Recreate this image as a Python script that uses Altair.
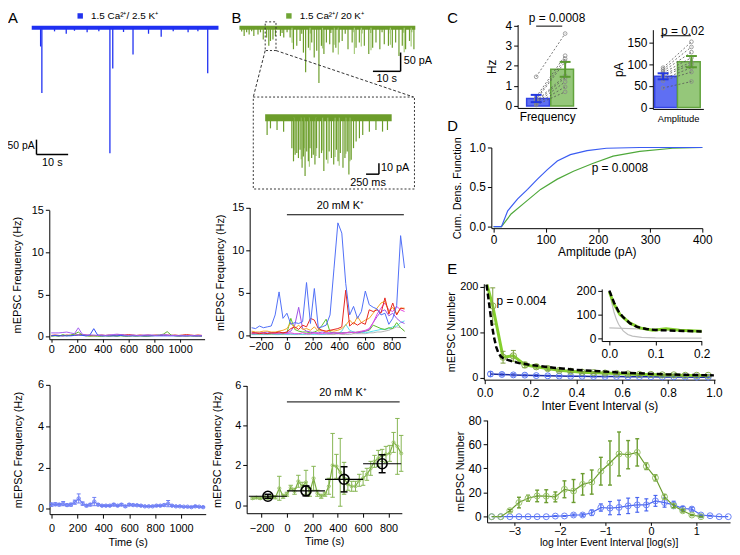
import altair as alt
import pandas as pd

W, H = 732, 547
OX = OY = 8
FONT = "Liberation Sans"

# ---------------- A: example trace 1.5 Ca2+/2.5 K+ (s, pA) ----------------
trA_len = 59
trA_t = [2.8, 3.2, 7.2, 10.9, 13.5, 17.5, 21.2, 24.7, 25.6, 29.0, 32.0, 36.9, 40.9, 44.7, 49.4, 52.5, 55.6]
trA_amp = [63, 220, 12, 20, 10, 15, 12, 423, 137, 14, 90, 20, 30, 12, 15, 12, 153]

# ---------------- B: example trace 1.5 Ca2+/20 K+ (s, pA) ----------------
trB_len = 63.5
trB_t = [1.7, 3.5, 5.2, 6.7, 8.6, 9.8, 10.6, 11.2, 12.1, 13.0, 14.8, 16.0, 18.3, 19.5, 20.7, 21.9, 23.1, 23.9,
         24.9, 26.1, 27.0, 27.9, 28.7, 29.6, 30.5, 31.4, 32.6, 33.8, 34.8, 36.0, 37.1, 39.2, 40.7, 42.1, 43.3,
         45.1, 46.7, 48.1, 49.3, 50.7, 52.3, 53.8, 55.2, 56.4, 57.6, 58.8, 60.0, 61.4, 63.0]
trB_amp = [22, 18, 22, 18, 31, 26, 48, 35, 31, 22, 22, 26, 26, 57, 48, 35, 66, 118, 53, 39, 79, 61, 147, 48,
           70, 39, 44, 66, 53, 39, 35, 57, 39, 53, 39, 48, 70, 53, 39, 57, 44, 48, 53, 39, 75, 48, 57, 35, 57]
trB_small_t = [0.8, 2.6, 4.4, 7.6, 15.4, 17.2, 22.5, 25.6, 33.0, 38.2, 41.4, 44.2, 47.4, 51.5, 54.5, 59.4, 62.2]
trB_small_amp = [10, 12, 9, 12, 14, 12, 16, 15, 14, 16, 12, 15, 14, 12, 15, 13, 12]
trB_light_t = [19.0, 25.5, 30.0, 34.2, 35.7, 41.5, 44.0, 47.5, 54.5, 59.5, 62.0]
trB_light_amp = [40, 60, 55, 45, 71, 70, 50, 60, 45, 65, 50]

# inset (ms, pA)
ins_len = 2460
ins_t = [38, 103, 231, 359, 519, 551, 583, 615, 647, 679, 718, 743, 776, 808, 840, 872, 904, 936, 968, 1000,
         1051, 1096, 1141, 1192, 1244, 1288, 1333, 1385, 1417, 1462, 1513, 1551, 1596, 1628, 1673, 1718, 1769,
         1833, 1897, 2026, 2154, 2282, 2378]
ins_amp = [15.8, 9.7, 11.2, 12.7, 27.9, 40, 33.9, 32.4, 37, 29.4, 46, 35.5, 53.6, 30.9, 40, 27.9, 37, 33.9, 43,
           27.9, 37, 32.4, 49, 38.5, 30.9, 37, 43, 29.4, 40, 32.4, 46, 37, 30.9, 52, 38.5, 27.9, 21.8, 18.8,
           15.8, 12.7, 11.2, 12.7, 11.2]
ins_light_t = [560, 700, 760, 860, 990, 1120, 1220, 1360, 1440, 1570, 1650]
ins_light_amp = [30, 38, 28, 45, 35, 30, 42, 36, 44, 33, 40]

# ---------------- A middle / bottom: frequency time courses (s, Hz) ----------------
tA = [0, 30, 60, 90, 120, 150, 180, 210, 240, 270, 300, 330, 360, 390, 420, 450, 480, 510, 540, 570,
      600, 630, 660, 690, 720, 750, 780, 810, 840, 870, 900, 930, 960, 990, 1020, 1050, 1080, 1110, 1140, 1170]
am_purple = [0.45, 0.45, 0.45, 0.5, 0.55, 0.45, 0.35, 1.05, 0.3, 0.2, 0.2, 0.2, 0.15, 0.2, 0.15, 0.2, 0.25, 0.3, 0.25, 0.2,
             0.15, 0.2, 0.15, 0.15, 0.2, 0.2, 0.2, 0.15, 0.2, 0.25, 0.2, 0.15, 0.15, 0.1, 0.1, 0.1, 0.15, 0.1, 0.1, 0.1]
am_blue = [0.1, 0.15, 0.1, 0.1, 0.1, 0.1, 0.15, 0.2, 0.15, 0.1, 0.2, 0.95, 0.2, 0.1, 0.1, 0.1, 0.1, 0.1, 0.15, 0.1,
           0.1, 0.1, 0.1, 0.1, 0.1, 0.1, 0.1, 0.1, 0.1, 0.1, 0.1, 0.1, 0.1, 0.1, 0.1, 0.1, 0.1, 0.1, 0.1, 0.1]
am_green = [0.05, 0.1, 0.05, 0.25, 0.1, 0.2, 0.3, 0.55, 0.2, 0.1, 0.05, 0.1, 0.05, 0.05, 0.1, 0.05, 0.1, 0.05, 0.1, 0.05,
            0.05, 0.1, 0.05, 0.1, 0.05, 0.05, 0.1, 0.15, 0.2, 0.3, 0.6, 0.2, 0.1, 0.05, 0.1, 0.05, 0.1, 0.05, 0.05, 0.05]
am_red = [0.15, 0.2, 0.15, 0.1, 0.2, 0.15, 0.2, 0.2, 0.25, 0.2, 0.15, 0.1, 0.15, 0.2, 0.15, 0.2, 0.15, 0.2, 0.25, 0.2,
          0.25, 0.2, 0.15, 0.2, 0.15, 0.2, 0.15, 0.2, 0.15, 0.2, 0.2, 0.15, 0.2, 0.15, 0.2, 0.25, 0.2, 0.15, 0.2, 0.15]
a_mean = [0.2, 0.22, 0.2, 0.25, 0.18, 0.2, 0.32, 0.5, 0.25, 0.15, 0.2, 0.35, 0.2, 0.15, 0.15, 0.15, 0.2, 0.15, 0.2, 0.12,
          0.2, 0.18, 0.17, 0.15, 0.12, 0.12, 0.12, 0.15, 0.15, 0.18, 0.25, 0.15, 0.12, 0.12, 0.1, 0.1, 0.08, 0.12, 0.1, 0.08]
a_sem = [0.08, 0.07, 0.06, 0.1, 0.05, 0.07, 0.1, 0.22, 0.08, 0.05, 0.06, 0.2, 0.05, 0.04, 0.04, 0.04, 0.06, 0.04, 0.05, 0.04,
         0.05, 0.04, 0.04, 0.04, 0.03, 0.03, 0.03, 0.04, 0.04, 0.05, 0.15, 0.04, 0.03, 0.03, 0.03, 0.03, 0.03, 0.04, 0.03, 0.03]

# ---------------- B middle / bottom (s, Hz) ----------------
tB = [-270, -240, -210, -180, -150, -120, -90, -60, -30, 0, 30, 60, 90, 120, 150, 180, 210, 240, 270, 300,
      330, 360, 390, 420, 450, 480, 510, 540, 570, 600, 630, 660, 690, 720, 750, 780, 810, 840, 870, 900]
bm_blue = [0.9, 0.8, 1.1, 0.9, 1.0, 1.1, 2.4, 5.1, 2.0, 2.6, 1.3, 1.5, 1.4, 1.6, 6.2, 1.4, 5.5, 0.9, 1.0, 1.2,
           2.4, 7.8, 13.2, 12.0, 6.1, 2.4, 3.4, 2.0, 2.8, 5.2, 3.6, 3.3, 3.1, 2.4, 2.6, 1.3, 2.0, 3.5, 11.7, 7.9]
bm_red = [0.3, 0.3, 0.2, 0.3, 0.2, 0.3, 0.3, 0.4, 0.3, 0.4, 0.8, 1.0, 0.7, 1.2, 1.0, 2.0, 1.8, 0.8, 0.6, 0.5,
          0.6, 0.7, 0.8, 1.0, 5.3, 1.1, 1.5, 1.2, 1.5, 1.3, 3.0, 2.8, 3.0, 2.6, 4.4, 2.5, 3.8, 2.4, 3.2, 3.1]
bm_orange = [0.5, 0.4, 0.4, 0.5, 0.5, 0.4, 0.4, 0.5, 0.6, 0.8, 1.5, 0.8, 1.2, 0.7, 0.8, 0.6, 1.0, 0.5, 0.6, 0.4,
             0.6, 0.5, 0.6, 0.8, 1.2, 1.8, 1.3, 2.2, 1.5, 1.8, 2.0, 2.6, 3.2, 3.8, 4.0, 2.8, 3.3, 2.5, 3.2, 3.2]
bm_purple = [0.4, 0.3, 0.3, 0.3, 0.4, 0.3, 0.3, 0.4, 0.3, 0.3, 0.5, 1.2, 3.3, 0.8, 0.5, 0.4, 0.3, 0.3, 0.4, 0.3,
             0.3, 0.3, 0.2, 0.3, 0.3, 0.3, 0.4, 0.3, 0.4, 0.5, 0.7, 1.5, 2.2, 2.8, 3.0, 2.3, 2.6, 2.0, 1.6, 1.4]
bm_magenta = [0.2, 0.2, 0.3, 0.2, 0.2, 0.3, 0.2, 0.2, 0.3, 0.2, 0.3, 0.2, 0.2, 0.3, 0.2, 0.2, 0.3, 0.2, 0.2, 0.3,
              0.2, 0.3, 0.3, 0.2, 0.3, 0.4, 0.3, 0.4, 0.5, 0.6, 0.8, 1.5, 2.5, 3.2, 3.8, 3.0, 2.8, 3.4, 3.0, 2.8]
bm_green = [0.2, 0.2, 0.2, 0.2, 0.2, 0.2, 0.2, 0.2, 0.2, 0.3, 2.0, 0.7, 0.5, 0.4, 0.4, 0.3, 0.4, 0.6, 1.2, 1.9,
            0.4, 0.3, 0.3, 0.3, 0.3, 0.4, 0.3, 0.4, 0.4, 0.5, 0.6, 1.2, 1.0, 0.8, 0.7, 0.9, 0.8, 1.5, 0.9, 0.5]
bm_cyan = [0.1, 0.1, 0.2, 0.1, 0.1, 0.2, 0.1, 0.1, 0.2, 0.1, 0.2, 0.1, 0.2, 0.1, 0.2, 0.2, 0.1, 0.2, 0.1, 0.2,
           0.2, 0.3, 0.2, 0.5, 1.3, 0.6, 0.4, 0.3, 0.4, 0.3, 0.4, 0.5, 0.6, 0.7, 0.7, 0.8, 1.0, 1.1, 1.5, 1.7]
bm_gray = [0.1, 0.1, 0.1, 0.1, 0.1, 0.1, 0.1, 0.1, 0.1, 0.1, 0.1, 0.1, 0.1, 0.1, 0.1, 0.1, 0.2, 0.1, 0.1, 0.1,
           0.1, 0.1, 0.2, 0.1, 0.1, 0.1, 0.2, 0.2, 0.2, 0.2, 0.3, 0.3, 0.4, 0.4, 0.5, 0.6, 0.8, 1.0, 0.9, 0.5]
b_mean = [0.35, 0.38, 0.35, 0.40, 0.36, 0.42, 0.40, 0.85, 0.45, 0.55, 0.88, 0.70, 1.20, 0.95, 1.15, 0.65, 1.35, 0.60, 0.45, 0.55,
          0.95, 2.00, 1.95, 1.65, 1.35, 1.05, 0.95, 0.95, 1.25, 1.35, 1.55, 1.85, 2.20, 2.35, 2.50, 2.55, 2.60, 3.15, 2.95, 2.60]
b_sem = [0.05, 0.05, 0.05, 0.06, 0.05, 0.07, 0.08, 0.60, 0.10, 0.10, 0.12, 0.15, 0.30, 0.20, 0.60, 0.20, 0.60, 0.15, 0.10, 0.10,
         0.40, 1.60, 0.60, 1.70, 0.80, 0.30, 0.25, 0.25, 0.30, 0.35, 0.30, 0.35, 0.30, 0.40, 0.30, 0.40, 0.40, 0.50, 1.40, 0.90]
bin_t = [-150, 150, 450, 750]
bin_t0 = [-300, 0, 300, 600]
bin_t1 = [0, 300, 600, 900]
bin_mean = [0.45, 0.72, 1.30, 2.08]
bin_sem = [0.10, 0.25, 0.63, 0.45]

# ---------------- C: paired summary ----------------
freq_blue = [1.45, 0.45, 0.35, 0.3, 0.25, 0.2, 0.15, 0.1, 0.05]
freq_green = [3.6, 2.5, 2.35, 2.2, 1.5, 1.4, 1.2, 0.95, 0.7]
freq_mean = [0.37, 1.82]
freq_sem = [0.18, 0.37]
amp_blue = [92, 88, 84, 80, 76, 72, 66, 62, 45]
amp_green = [152, 140, 128, 115, 105, 100, 92, 82, 60]
amp_mean = [72, 106]
amp_sem = [7, 13]

# ---------------- D: cumulative amplitude distributions ----------------
cdf_blue_x = [0, 15, 27, 46, 65, 84, 103, 122, 147, 179, 216, 280, 400]
cdf_blue_y = [0, 0, 0.2, 0.35, 0.47, 0.6, 0.72, 0.83, 0.91, 0.96, 0.99, 1.0, 1.0]
cdf_green_x = [0, 15, 33.5, 59, 90, 122, 153, 191, 229, 280, 343, 400]
cdf_green_y = [0, 0, 0.16, 0.30, 0.47, 0.6, 0.7, 0.8, 0.89, 0.95, 0.99, 1.0]

# ---------------- E top: inter-event interval histograms ----------------
ie_green_x = [0.01, 0.035, 0.08, 0.125, 0.175, 0.225, 0.275, 0.325, 0.375, 0.425, 0.475, 0.525, 0.575, 0.625,
              0.675, 0.725, 0.775, 0.825, 0.875, 0.925, 0.975]
ie_green_y = [205, 158, 45, 48, 28, 24, 20, 16, 14, 12, 11, 10, 9, 8, 7, 7, 6, 6, 5, 5, 5]
ie_green_sem = [0, 40, 13, 12, 6, 5, 4, 3, 3, 2, 2, 2, 2, 2, 2, 1, 1, 1, 1, 1, 1]
ie_blue_x = [0.025, 0.075, 0.125, 0.175, 0.225, 0.275, 0.325, 0.375, 0.425, 0.475, 0.525, 0.575, 0.625, 0.675,
             0.725, 0.775, 0.825, 0.875, 0.925, 0.975]
ie_blue_y = [8, 7, 6, 5.5, 4.5, 4, 3.5, 3, 3, 2.5, 2.5, 2.5, 2, 2, 2, 1.5, 1.5, 1.5, 1, 1]
ie_blue_sem = [5, 3, 2.5, 2, 2, 1.5, 1.5, 1, 1, 1, 1, 1, 1, 1, 1, 1, 1, 1, 1, 1]
ie_fit_x = [0.008, 0.02, 0.03, 0.04, 0.05, 0.06, 0.07, 0.08, 0.1, 0.15, 0.2, 0.3, 0.4, 0.5, 0.6, 0.7, 0.8, 0.9, 1.0]
ie_fit_y = [205, 160, 120, 90, 68, 54, 47, 43, 39, 32, 28, 22, 17, 14, 11, 9, 7, 6, 5]
# inset
in_green_x = [0.0, 0.009, 0.023, 0.044, 0.066, 0.094, 0.123, 0.152, 0.2]
in_green_y = [195, 147, 99, 64, 43, 33, 39, 33, 29]
in_fit_x = [0.0, 0.01, 0.02, 0.03, 0.045, 0.06, 0.08, 0.1, 0.13, 0.16, 0.2]
in_fit_y = [200, 150, 112, 88, 62, 47, 38, 34, 32, 30, 28]
in_gray1_x = [0.0, 0.005, 0.01, 0.015, 0.02, 0.03, 0.04, 0.05, 0.07, 0.1, 0.2]
in_gray1_y = [200, 150, 110, 80, 58, 30, 15, 8, 3, 1, 0]
in_gray2_x = [0.0, 0.1, 0.2]
in_gray2_y = [43, 36, 28]

# ---------------- E bottom: log IEI histograms ----------------
le_green_x = [-3.5, -3.3, -3.1, -2.9, -2.7, -2.5, -2.3, -2.1, -1.9, -1.7, -1.5, -1.3, -1.1, -0.9, -0.7, -0.5,
              -0.3, -0.1, 0.1, 0.3, 0.5, 0.7, 0.9, 1.1]
le_green_y = [0, 0, 5, 11.7, 15.3, 17.2, 17, 16.4, 22.7, 21.3, 26.8, 28.7, 37.7, 44.5, 52, 51.4, 53.3, 41.8,
              32.2, 16.4, 9, 4.9, 1.4, 0]
le_green_sem = [0, 0, 1, 4.4, 2.5, 4.8, 5.3, 4.1, 7, 9.5, 8.9, 10, 11.5, 18.3, 18.2, 11.7, 11.3, 2.7, 2.5, 2,
                1.5, 1, 0.5, 0.3]
le_blue_x = [-3.5, -3.3, -3.1, -2.9, -2.7, -2.5, -2.3, -2.1, -1.9, -1.7, -1.5, -1.3, -1.1, -0.9, -0.7, -0.5,
             -0.3, -0.1, 0.1, 0.3, 0.5, 0.7, 0.9, 1.1, 1.3, 1.5, 1.7]
le_blue_y = [0, 0, 0, 0, 0, 0, 0, 0.5, 0.6, 1.4, 1.4, 3.3, 7.6, 7.1, 7.7, 9, 9.8, 9.8, 13.1, 11.7, 9.8, 6.8,
             6.3, 1.4, 0.8, 0, 0]
le_blue_sem = [0, 0, 0, 0, 0, 0, 0, 0.3, 0.3, 0.8, 1, 2.3, 3, 5.5, 6, 6.4, 6.1, 5, 4.5, 3.8, 3, 1.6, 1.6,
               0.5, 0.3, 0, 0]

# ======================= helpers =======================
class Panel:
    def __init__(self, xd, xa, xb, yd, ya, yb):
        kx = (xb[1] - xa[1]) / (xb[0] - xa[0])
        ky = (yb[1] - ya[1]) / (yb[0] - ya[0])
        self.xd, self.yd = list(xd), list(yd)
        self.xr = [round(xa[1] + (d - xa[0]) * kx - OX, 2) for d in xd]
        self.yr = [round(ya[1] + (d - ya[0]) * ky - OY, 2) for d in yd]
        self.xs = alt.Scale(domain=self.xd, range=self.xr, nice=False, zero=False)
        self.ys = alt.Scale(domain=self.yd, range=self.yr, nice=False, zero=False)

    def xaxis(self, **kw):
        return make_axis("bottom", round(self.yr[0] - H, 2), **kw)

    def yaxis(self, **kw):
        return make_axis("left", round(-self.xr[0], 2), **kw)


def make_axis(orient, offset, values=None, title=None, fmt=None, labels=True, ticks=True,
              tpad=3, lpad=2, tsize=11, lsize=11, ticksize=4):
    kw = dict(orient=orient, offset=offset, title=title, labels=labels, ticks=ticks,
              titlePadding=tpad, labelPadding=lpad, titleFontSize=tsize, labelFontSize=lsize, tickSize=ticksize)
    if values is not None:
        kw["values"] = values
    if fmt is not None:
        kw["format"] = fmt
    return alt.Axis(**kw)


def enc(p, x, y, x2=None, y2=None, **extra):
    e = dict(x=alt.X(x, type="quantitative", scale=p.xs, axis=None),
             y=alt.Y(y, type="quantitative", scale=p.ys, axis=None))
    if x2:
        e["x2"] = alt.X2(x2)
    if y2:
        e["y2"] = alt.Y2(y2)
    e.update(extra)
    return e


def axes(p, xa=None, ya=None):
    df = pd.DataFrame({"x": [p.xd[0]], "y": [p.yd[0]]})
    return alt.Chart(df).mark_point(opacity=0).encode(
        x=alt.X("x:Q", scale=p.xs, axis=xa), y=alt.Y("y:Q", scale=p.ys, axis=ya))


def line(p, xs, ys, color, width=1.0, dash=None, opacity=1.0):
    kw = dict(color=color, strokeWidth=width, opacity=opacity)
    if dash:
        kw["strokeDash"] = dash
    return alt.Chart(pd.DataFrame({"x": xs, "y": ys})).mark_line(**kw).encode(**enc(p, "x", "y"))


def errbars(p, xs, m, s, color, cap=16, width=1.0):
    df = pd.DataFrame({"x": xs, "m": m, "s": s})
    df = df[df["s"] > 0].copy()
    df["lo"] = df["m"] - df["s"]
    df["hi"] = df["m"] + df["s"]
    r = alt.Chart(df).mark_rule(color=color, strokeWidth=width).encode(**enc(p, "x", "lo", y2="hi"))
    c1 = alt.Chart(df).mark_point(shape="M-1,0L1,0", size=cap, filled=False, color=color, opacity=1,
                                  strokeWidth=width).encode(**enc(p, "x", "lo"))
    c2 = alt.Chart(df).mark_point(shape="M-1,0L1,0", size=cap, filled=False, color=color, opacity=1,
                                  strokeWidth=width).encode(**enc(p, "x", "hi"))
    return [r, c1, c2]


def circles(p, xs, ys, color, size=30, width=1.0):
    return alt.Chart(pd.DataFrame({"x": xs, "y": ys})).mark_point(
        shape="circle", filled=False, size=size, color=color, opacity=1, strokeWidth=width
    ).encode(**enc(p, "x", "y"))


def spikes(p, ts, amps, color, width=1.0, opacity=1.0):
    df = pd.DataFrame({"t": ts, "a": amps})
    df["z"] = 0
    return alt.Chart(df).mark_rule(color=color, strokeWidth=width, opacity=opacity).encode(
        **enc(p, "t", "z", y2="a"))


def segs(p, x0, y0, x1, y1, color="black", width=1.0, dash=None):
    kw = dict(color=color, strokeWidth=width)
    if dash:
        kw["strokeDash"] = dash
    df = pd.DataFrame({"x0": x0, "y0": y0, "x1": x1, "y1": y1})
    return alt.Chart(df).mark_rule(**kw).encode(**enc(p, "x0", "y0", x2="x1", y2="y1"))


def text(p, x, y, s, align="center", size=11, baseline="middle", color="black"):
    return alt.Chart(pd.DataFrame({"x": [x], "y": [y], "s": [s]})).mark_text(
        align=align, baseline=baseline, fontSize=size, font=FONT, color=color
    ).encode(**enc(p, "x", "y", text="s:N"))


def ptext(px, py, s, size=11, align="left", baseline="middle"):
    return alt.Chart(pd.DataFrame({"a": [0]})).mark_text(
        align=align, baseline=baseline, fontSize=size, font=FONT, color="black"
    ).encode(x=alt.value(px - OX), y=alt.value(py - OY), text=alt.value(s))


def psquare(px, py, color, size=36):
    return alt.Chart(pd.DataFrame({"a": [0]})).mark_square(size=size, color=color, opacity=1).encode(
        x=alt.value(px - OX), y=alt.value(py - OY))


L = []

BLUE_TR = "#1f30f2"
GREEN_TR = "#6c9d2b"
GREEN_LT = "#a7cc7c"

# ---------------- letters / legends ----------------
L += [ptext(8, 8, "A", 15, baseline="top"), ptext(234, 8, "B", 15, baseline="top"),
      ptext(452, 8, "C", 15, baseline="top"), ptext(452, 117, "D", 15, baseline="top"),
      ptext(452, 262, "E", 15, baseline="top")]
L += [psquare(81, 13, "#2233ee", 30), ptext(92, 13, "1.5 Ca²⁺/ 2.5 K⁺", 10)]
L += [psquare(292, 13, "#6fa535", 30), ptext(303, 13, "1.5 Ca²⁺/ 20 K⁺", 10)]

# ---------------- trace A ----------------
trA = Panel((-1, 61), (0, 32), (10, 64), (-20, 440), (0, 25), (50, 40))
L.append(segs(trA, [0], [0], [trA_len], [0], BLUE_TR, 4))
L.append(spikes(trA, trA_t, trA_amp, BLUE_TR, 1.3))
L.append(segs(trA, [1.5, 1.5], [377, 427], [1.5, 11.5], [427, 427], "black", 1.5))
L.append(text(trA, 0.9, 397, "50 pA", align="right", size=10.5))
L.append(text(trA, 6.5, 455, "10 s", size=11))

# ---------------- trace B ----------------
trB = Panel((-1, 64), (0, 242), (10, 270), (-20, 440), (0, 25), (50, 44))
L.append(segs(trB, [0], [0], [trB_len], [0], GREEN_TR, 4))
L.append(spikes(trB, trB_small_t, trB_small_amp, GREEN_TR, 1.2))
L.append(spikes(trB, trB_light_t, trB_light_amp, GREEN_LT, 1.2))
L.append(spikes(trB, trB_t, trB_amp, GREEN_TR, 1.2))
L.append(segs(trB, [48.2, 58.2], [115.8, 65.8], [58.2, 58.2], [115.8, 115.8], "black", 1.5))
L.append(text(trB, 59.3, 89, "50 pA", align="left", size=11))
L.append(text(trB, 53.2, 137, "10 s", size=11))
L.append(alt.Chart(pd.DataFrame({"x0": [9.3], "x1": [13.2], "y0": [-15.8], "y1": [60.5]})).mark_rect(
    fillOpacity=0, stroke="#333", strokeDash=[2, 2], strokeWidth=1).encode(**enc(trB, "x0", "y0", x2="x1", y2="y1")))
L.append(segs(trB, [9.3, 13.2], [60.5, 60.5], [5.0, 62.9], [184.2, 184.2], "#333", 1, [3, 2]))
L.append(alt.Chart(pd.DataFrame({"x0": [5.0], "x1": [63.2], "y0": [184.2], "y1": [428.9]})).mark_rect(
    fillOpacity=0, stroke="#333", strokeDash=[2, 2], strokeWidth=1).encode(**enc(trB, "x0", "y0", x2="x1", y2="y1")))

# inset trace
trI = Panel((-50, 2500), (0, 268), (250, 281), (-20, 80), (0, 116), (10, 127))
L.append(segs(trI, [0], [0], [ins_len], [0], GREEN_TR, 7))
L.append(spikes(trI, ins_light_t, ins_light_amp, GREEN_LT, 1.2))
L.append(spikes(trI, ins_t, ins_amp, GREEN_TR, 1.2))
L.append(segs(trI, [1962, 2212], [51.8, 41.8], [2212, 2212], [51.8, 51.8], "black", 1.5))
L.append(text(trI, 2250, 46.5, "10 pA", align="left", size=11))
L.append(text(trI, 2000, 60, "250 ms", size=11))

# ---------------- A middle ----------------
pAm = Panel((-15, 1190), (0, 51.7), (1000, 182), (-0.3, 15), (0, 337.3), (15, 209.3))
L.append(axes(pAm, pAm.xaxis(values=[0, 200, 400, 600, 800, 1000], fmt="d", ticksize=3, lpad=1),
              pAm.yaxis(values=[0, 5, 10, 15], title="mEPSC Frequency (Hz)", tpad=9)))
for ser, col in [(am_red, "#e0241f"), (am_green, "#5fb030"), (am_blue, "#2f4cf5"), (am_purple, "#a35cf0")]:
    L.append(line(pAm, tA, ser, col, 1.0))

# ---------------- A bottom ----------------
pAb = Panel((-15, 1190), (0, 52), (1000, 183), (-0.26, 6), (0, 511.3), (6, 386))
L.append(axes(pAb, pAb.xaxis(values=[0, 200, 400, 600, 800, 1000], fmt="d", title="Time (s)", tpad=3, lpad=5),
              pAb.yaxis(values=[0, 2, 4, 6], title="mEPSC Frequency (Hz)", tpad=14)))
L.append(line(pAb, tA, a_mean, "#6f7ff5", 1.2))
L += errbars(pAb, tA, a_mean, a_sem, "#6f7ff5", 16, 1.0)
L.append(circles(pAb, tA, a_mean, "#6f7ff5", 12, 1.0))

# ---------------- B middle ----------------
pBm = Panel((-285, 910), (0, 290), (800, 395.7), (-0.2, 15), (0, 336), (15, 206.7))
L.append(axes(pBm, pBm.xaxis(values=[-200, 0, 200, 400, 600, 800], fmt="d", ticksize=3, lpad=1),
              pBm.yaxis(values=[0, 5, 10, 15], title="mEPSC Frequency (Hz)", tpad=6)))
for ser, col in [(bm_gray, "#b5b5b5"), (bm_cyan, "#58e0ef"), (bm_green, "#5cbf2a"), (bm_purple, "#9d4ee6"),
                 (bm_magenta, "#e447e0"), (bm_orange, "#f5a623"), (bm_red, "#e6261f"), (bm_blue, "#4f6ef7")]:
    L.append(line(pBm, tB, ser, col, 1.0))
L.append(segs(pBm, [0], [14.15], [895], [14.15], "black", 1))
L.append(text(pBm, 409, 15.15, "20 mM K⁺", size=11))

# ---------------- B bottom ----------------
pBb = Panel((-317, 905), (0, 290), (800, 392.7), (-0.4, 6), (0, 507.7), (6, 386.7))
L.append(axes(pBb, pBb.xaxis(values=[-200, 0, 200, 400, 600, 800], fmt="d", title="Time (s)", tpad=3, lpad=5),
              pBb.yaxis(values=[0, 2, 4, 6], title="mEPSC Frequency (Hz)", tpad=12)))
L += errbars(pBb, tB, b_mean, b_sem, "#86b552", 20, 1.0)
L.append(line(pBb, tB, b_mean, "#7aac40", 1.2))
L.append(circles(pBb, tB, b_mean, "#9cc46c", 10, 1.0))
L.append(segs(pBb, bin_t0, bin_mean, bin_t1, bin_mean, "black", 1.2))
L += errbars(pBb, bin_t, bin_mean, bin_sem, "black", 49, 1.5)
L.append(circles(pBb, bin_t, bin_mean, "black", 100, 1.6))
L.append(segs(pBb, [0], [5.18], [888], [5.18], "black", 1))
L.append(text(pBb, 441, 5.64, "20 mM K⁺", size=11))

# ---------------- C left: frequency ----------------
pCl = Panel((-0.64, 1.4), (0, 542), (1, 571.3), (-0.1, 4.05), (0, 104), (4, 22.7))
L.append(axes(pCl, pCl.xaxis(labels=False, ticks=False, title="Frequency", tpad=4, tsize=12),
              pCl.yaxis(values=[0, 1, 2, 3, 4], title="Hz", tpad=7, tsize=12, lsize=12)))
cdf_ = pd.DataFrame({"x": [0, 1], "m": freq_mean, "s": freq_sem, "z": [0, 0], "g": ["b", "g"]})
L.append(alt.Chart(cdf_).mark_bar(width=23, strokeWidth=1.5).encode(**enc(
    pCl, "x", "m", y2="z",
    fill=alt.Fill("g:N", scale=alt.Scale(domain=["b", "g"], range=["#5f6ff3", "#95c77a"]), legend=None),
    stroke=alt.Stroke("g:N", scale=alt.Scale(domain=["b", "g"], range=["#3344e6", "#62a33d"]), legend=None))))
cells = list(range(len(freq_blue)))
pairs_f = pd.DataFrame({"x": [0] * len(cells) + [1] * len(cells), "y": freq_blue + freq_green, "c": cells + cells})
L.append(alt.Chart(pairs_f).mark_line(color="#555", strokeWidth=0.8, strokeDash=[2, 2]).encode(
    **enc(pCl, "x", "y", detail="c:N")))
L.append(circles(pCl, pairs_f["x"].tolist(), pairs_f["y"].tolist(), "#888", 14, 0.8))
L += errbars(pCl, [0], [freq_mean[0]], [freq_sem[0]], "#2438e0", 121, 2)
L += errbars(pCl, [1], [freq_mean[1]], [freq_sem[1]], "#5a9a30", 121, 2)
L.append(segs(pCl, [0], [3.97], [0.9], [3.97], "black", 1))
L.append(text(pCl, 0.72, 4.38, "p = 0.0008", size=12))

# ---------------- C right: amplitude ----------------
pCr = Panel((-0.36, 1.42), (0, 670.3), (1, 699), (-3.5, 180), (0, 105.5), (150, 40))
L.append(axes(pCr, pCr.xaxis(labels=False, ticks=False, title="Amplitude", tpad=5, tsize=9.5),
              pCr.yaxis(values=[0, 50, 100, 150], title="pA", tpad=2, tsize=12, lsize=12)))
cda_ = pd.DataFrame({"x": [0, 1], "m": amp_mean, "s": amp_sem, "z": [0, 0], "g": ["b", "g"]})
L.append(alt.Chart(cda_).mark_bar(width=23, strokeWidth=1.5).encode(**enc(
    pCr, "x", "m", y2="z",
    fill=alt.Fill("g:N", scale=alt.Scale(domain=["b", "g"], range=["#5f6ff3", "#95c77a"]), legend=None),
    stroke=alt.Stroke("g:N", scale=alt.Scale(domain=["b", "g"], range=["#3344e6", "#62a33d"]), legend=None))))
pairs_a = pd.DataFrame({"x": [0] * len(cells) + [1] * len(cells), "y": amp_blue + amp_green, "c": cells + cells})
L.append(alt.Chart(pairs_a).mark_line(color="#555", strokeWidth=0.8, strokeDash=[2, 2]).encode(
    **enc(pCr, "x", "y", detail="c:N")))
L.append(circles(pCr, pairs_a["x"].tolist(), pairs_a["y"].tolist(), "#888", 14, 0.8))
L += errbars(pCr, [0], [amp_mean[0]], [amp_sem[0]], "#2438e0", 121, 2)
L += errbars(pCr, [1], [amp_mean[1]], [amp_sem[1]], "#5a9a30", 121, 2)
L.append(segs(pCr, [-0.08], [166], [0.98], [166], "black", 1))
L.append(text(pCr, 0.69, 177.5, "p = 0.02", size=12))

# ---------------- D ----------------
pD = Panel((-4.4, 400), (0, 499), (400, 710), (-0.02, 1.0), (0, 226), (1, 146))
L.append(axes(pD, pD.xaxis(values=[0, 100, 200, 300, 400], fmt="d", title="Amplitude (pA)", tpad=2, tsize=12, lsize=12),
              pD.yaxis(values=[0, 0.5, 1.0], fmt=".1f", title="Cum. Dens. Function", tpad=6, lsize=12)))
L.append(line(pD, cdf_green_x, cdf_green_y, "#4ea83a", 1.2))
L.append(line(pD, cdf_blue_x, cdf_blue_y, "#3a5cf2", 1.2))
L.append(text(pD, 242, 0.74, "p = 0.0008", size=12))

# ---------------- E top ----------------
pEt = Panel((-0.004, 1.005), (0, 490), (1, 721.7), (-4.5, 207), (0, 378.7), (200, 287))
L.append(axes(pEt, pEt.xaxis(values=[0, 0.2, 0.4, 0.6, 0.8, 1.0], fmt=".1f", title="Inter Event Interval (s)",
                             tpad=2, lpad=4, tsize=12, lsize=12),
              pEt.yaxis(values=[0, 100, 200], fmt="d", title="mEPSC Number", tpad=3)))
L.append(line(pEt, ie_blue_x, ie_blue_y, "#1b2a9c", 1.5))
L += errbars(pEt, ie_blue_x, ie_blue_y, ie_blue_sem, "#3a50e0", 16, 1)
L.append(circles(pEt, ie_blue_x, ie_blue_y, "#5b78f2", 36, 1))
L.append(line(pEt, ie_green_x, ie_green_y, "#85d02e", 3))
L += errbars(pEt, ie_green_x, ie_green_y, ie_green_sem, "#7a9e3c", 25, 1)
L.append(circles(pEt, ie_green_x[1:], ie_green_y[1:], "#8aad4f", 40, 1))
L.append(line(pEt, ie_fit_x, ie_fit_y, "black", 2.5, [6, 3]))
L.append(text(pEt, 0.16, 168, "p = 0.004", size=12))

# inset
pEi = Panel((-0.0165, 0.2), (0, 616), (0.2, 709.3), (-12.5, 207), (0, 338.7), (200, 290.7))
L.append(axes(pEi, pEi.xaxis(values=[0, 0.1, 0.2], fmt=".1f", tpad=2, lsize=12, lpad=4),
              pEi.yaxis(values=[0, 100, 200], fmt="d", tpad=2, lsize=12)))
L.append(line(pEi, in_gray2_x, in_gray2_y, "#bdbdbd", 1.2))
L.append(line(pEi, in_gray1_x, in_gray1_y, "#bdbdbd", 1.2))
L.append(line(pEi, in_green_x, in_green_y, "#85d02e", 3))
L.append(line(pEi, in_fit_x, in_fit_y, "black", 2.5, [6, 3]))

# ---------------- E bottom ----------------
pEb = Panel((-3.6, 1.74), (-3, 520), (1, 704), (-4.7, 80), (0, 519.3), (80, 421.7))
L.append(axes(pEb, pEb.xaxis(values=[-3, -2, -1, 0, 1], fmt="d", title="log Inter Event Interval [log(s)]", tpad=1,
                             lpad=0, ticksize=3, tsize=10.5, lsize=11),
              pEb.yaxis(values=[0, 20, 40, 60, 80], fmt="d", title="mEPSC Number", tpad=3, lsize=12)))
L.append(line(pEb, le_blue_x, le_blue_y, "#4a66f0", 1.2))
L += errbars(pEb, le_blue_x, le_blue_y, le_blue_sem, "#4a66f0", 16, 1.2)
L.append(circles(pEb, le_blue_x, le_blue_y, "#6a82f5", 36, 1))
L.append(line(pEb, le_green_x, le_green_y, "#6b9c2f", 1.2))
L += errbars(pEb, le_green_x, le_green_y, le_green_sem, "#6b9c2f", 16, 1.4)
L.append(circles(pEb, le_green_x, le_green_y, "#98c26a", 36, 1))

chart = alt.layer(*L).resolve_scale(
    x="independent", y="independent", color="independent", fill="independent", stroke="independent"
).properties(
    width=W, height=H, autosize=alt.AutoSizeParams(type="none"), padding=0
).configure_view(strokeWidth=0).configure_axis(
    labelFont=FONT, titleFont=FONT, titleFontWeight="normal", labelColor="black", titleColor="black",
    domainColor="black", tickColor="black", grid=False, labelFlush=False, labelOverlap=False,
    domainWidth=1, tickWidth=1
)

chart.save("out.html", embed_options={"renderer": "svg", "actions": False})
